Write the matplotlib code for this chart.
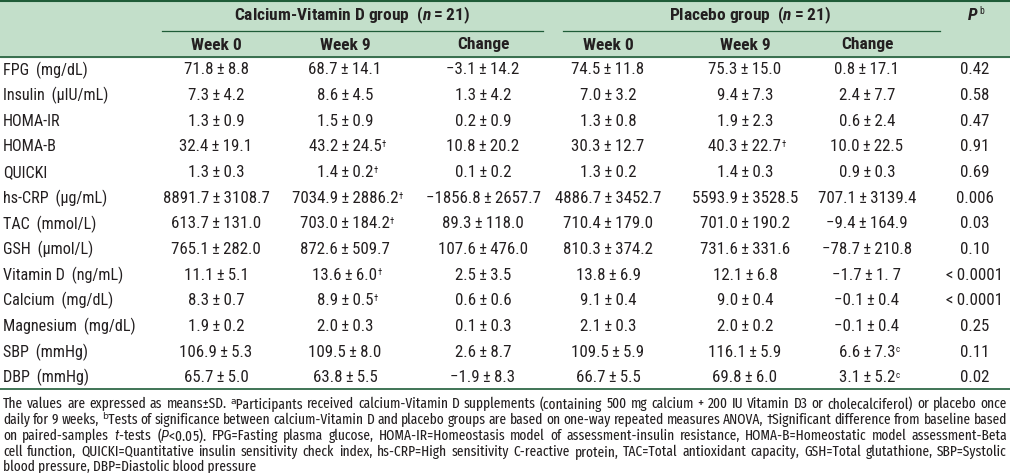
import matplotlib
matplotlib.use("Agg")
import matplotlib.pyplot as plt
from matplotlib import font_manager

# --- fuentes: primera condensada que esté instalada ---
nombres = {f.name for f in font_manager.fontManager.ttflist}
FUENTE = next(f for f in ["Roboto Condensed", "Liberation Sans Narrow", "Liberation Sans", "DejaVu Sans"]
              if f in nombres)
# la nota al pie usa una humanista estrecha, si la hay
FUENTE_NOTA = next(f for f in ["Fira Sans Extra Condensed", "Cabin Condensed", "Fira Sans Condensed",
                               "PT Sans Narrow", FUENTE] if f in nombres)
plt.rcParams['font.family'] = [FUENTE, 'DejaVu Sans']
plt.rcParams['mathtext.fontset'] = 'custom'
plt.rcParams['mathtext.rm'] = FUENTE
plt.rcParams['mathtext.it'] = FUENTE + ':italic'
plt.rcParams['mathtext.bf'] = FUENTE + ':bold'
plt.rcParams['mathtext.bfit'] = FUENTE + ':bold:italic'

PM = "\u2009\u00b1\u2009"   # ± con espacios finos
MENOS = "\u2212"

# --- datos ---
grupos = ["Calcium-Vitamin D group  ($\\mathbfit{n}$\u2009=\u200921)",
          "Placebo group  ($\\mathbfit{n}$\u2009=\u200921)"]
subcols = ["Week 0", "Week 9", "Change"]
variables = ["FPG  (mg/dL)", "Insulin  (\u03bcIU/mL)", "HOMA-IR", "HOMA-B", "QUICKI",
             "hs-CRP  (\u03bcg/mL)", "TAC  (mmol/L)", "GSH  (\u03bcmol/L)", "Vitamin D  (ng/mL)",
             "Calcium  (mg/dL)", "Magnesium  (mg/dL)", "SBP  (mmHg)", "DBP  (mmHg)"]
cavd_w0 = ["71.8±8.8", "7.3±4.2", "1.3±0.9", "32.4±19.1", "1.3±0.3",
           "8891.7±3108.7", "613.7±131.0", "765.1±282.0", "11.1±5.1",
           "8.3±0.7", "1.9±0.2", "106.9±5.3", "65.7±5.0"]
cavd_w9 = ["68.7±14.1", "8.6±4.5", "1.5±0.9", "43.2±24.5", "1.4±0.2",
           "7034.9±2886.2", "703.0±184.2", "872.6±509.7", "13.6±6.0",
           "8.9±0.5", "2.0±0.3", "109.5±8.0", "63.8±5.5"]
cavd_w9_sup = ["", "", "", "\u2020", "\u2020", "\u2020", "\u2020", "", "\u2020", "\u2020", "", "", ""]
cavd_cambio = ["−3.1±14.2", "1.3±4.2", "0.2±0.9", "10.8±20.2", "0.1±0.2",
               "−1856.8±2657.7", "89.3±118.0", "107.6±476.0", "2.5±3.5",
               "0.6±0.6", "0.1±0.3", "2.6±8.7", "−1.9±8.3"]
plac_w0 = ["74.5±11.8", "7.0±3.2", "1.3±0.8", "30.3±12.7", "1.3±0.2",
           "4886.7±3452.7", "710.4±179.0", "810.3±374.2", "13.8±6.9",
           "9.1±0.4", "2.1±0.3", "109.5±5.9", "66.7±5.5"]
plac_w9 = ["75.3±15.0", "9.4±7.3", "1.9±2.3", "40.3±22.7", "1.4±0.3",
           "5593.9±3528.5", "701.0±190.2", "731.6±331.6", "12.1±6.8",
           "9.0±0.4", "2.0±0.2", "116.1±5.9", "69.8±6.0"]
plac_w9_sup = ["", "", "", "\u2020", "", "", "", "", "", "", "", "", ""]
plac_cambio = ["0.8±17.1", "2.4±7.7", "0.6±2.4", "10.0±22.5", "0.9±0.3",
               "707.1±3139.4", "−9.4±164.9", "−78.7±210.8", "−1.7±1. 7",
               "−0.1±0.4", "−0.1±0.4", "6.6±7.3", "3.1±5.2"]
plac_cambio_sup = ["", "", "", "", "", "", "", "", "", "", "", "c", "c"]
valores_p = ["0.42", "0.58", "0.47", "0.91", "0.69", "0.006", "0.03", "0.10", "<\u20090.0001",
             "<\u20090.0001", "0.25", "0.11", "0.02"]

nota = [
    "The values are expressed as means±SD. \u1d43Participants received calcium-Vitamin D supplements (containing 500 mg calcium + 200 IU Vitamin D3 or cholecalciferol) or placebo once",
    "daily for 9 weeks, \u1d47Tests of significance between calcium-Vitamin D and placebo groups are based on one-way repeated measures ANOVA, \u2020Significant difference from baseline based",
    "on paired-samples $\\mathit{t}$-tests ($\\mathit{P}$<0.05). FPG=Fasting plasma glucose, HOMA-IR=Homeostasis model of assessment-insulin resistance, HOMA-B=Homeostatic model assessment-Beta",
    "cell function, QUICKI=Quantitative insulin sensitivity check index, hs-CRP=High sensitivity C-reactive protein, TAC=Total antioxidant capacity, GSH=Total glutathione, SBP=Systolic",
    "blood pressure, DBP=Diastolic blood pressure",
]

# --- estilo ---
VERDE_FONDO = "#c3dfca"
VERDE_LINEA = "#1f5c38"
TEXTO = "#231f20"

fig = plt.figure(figsize=(10.1, 4.73), dpi=100)
ax = fig.add_axes([0, 0, 1, 1])
ax.set_xlim(0, 1010)
ax.set_ylim(473, 0)
ax.axis('off')
renderer = fig.canvas.get_renderer()

# encabezado
ax.axhspan(2, 57, color=VERDE_FONDO, zorder=0)
ax.axhline(1.5, color=VERDE_LINEA, lw=1.5)
ax.axhline(57.5, color=VERDE_LINEA, lw=1.2)
ax.axhline(388.5, color=VERDE_LINEA, lw=1.2)
ax.plot([162, 543], [31, 31], color=VERDE_LINEA, lw=0.9)
ax.plot([563, 940], [31, 31], color=VERDE_LINEA, lw=0.9)

x_cols = [216, 345, 483, 608, 745, 867]
x_grupos = [352, 750]
x_p = 975
fs = 12.2
fs_cab = 12.5

for g, xg in zip(grupos, x_grupos):
    ax.text(xg, 15, g, ha='center', va='center', fontsize=fs_cab, fontweight='bold', color=TEXTO)
ax.text(x_p - 2, 15, "$\\mathbfit{P}$", ha='center', va='center', fontsize=fs_cab, color=TEXTO)
ax.text(x_p + 4, 11, "b", ha='left', va='center', fontsize=7, color=TEXTO)
for i, xc in enumerate(x_cols):
    ax.text(xc, 45, subcols[i % 3], ha='center', va='center', fontsize=fs_cab, fontweight='bold', color=TEXTO)


def celda(x, y, s, sup=""):
    s = s.replace("±", PM).replace("−", MENOS)
    t = ax.text(x, y, s, ha='center', va='center', fontsize=fs, color=TEXTO)
    if sup:
        ax.annotate(sup, xy=(1.0, 0.95), xycoords=t, ha='left', va='top',
                    fontsize=6.5, color=TEXTO)


columnas = [(cavd_w0, None), (cavd_w9, cavd_w9_sup), (cavd_cambio, None),
            (plac_w0, None), (plac_w9, plac_w9_sup), (plac_cambio, plac_cambio_sup)]

for r, var in enumerate(variables):
    y = 70 + r * 25.65
    ax.text(3, y, var.replace("  ", " \u2009"), ha='left', va='center', fontsize=11.6, color=TEXTO)
    for (vals, sups), xc in zip(columnas, x_cols):
        celda(xc, y, vals[r], sups[r] if sups else "")
    ax.text(x_p, y, valores_p[r], ha='center', va='center', fontsize=fs, color=TEXTO)

# nota al pie, justificada entre x=3 y x=1007
x0, x1 = 3, 1007
fam_nota = [FUENTE_NOTA, 'DejaVu Sans']


def nuevo_texto(s, tam, y=0):
    return ax.text(0, y, s, ha='left', va='center', fontsize=tam, family=fam_nota, color=TEXTO)


def ancho(a):
    return a.get_window_extent(renderer).width


base = 10
sp, sx = nuevo_texto("x x", base), nuevo_texto("xx", base)
esp = ancho(sp) - ancho(sx)
sp.remove()
sx.remove()
natural = []
for linea in nota[:-1]:
    arts = [nuevo_texto(w, base) for w in linea.split(" ")]
    natural.append(sum(ancho(a) for a in arts) + esp * (len(arts) - 1))
    for a in arts:
        a.remove()
fs_nota = min(11.6, base * (x1 - x0) / max(natural))

for k, linea in enumerate(nota):
    y = 404 + k * 15.8
    if k == len(nota) - 1:
        t = nuevo_texto(linea, fs_nota, y)
        t.set_x(x0)
        continue
    arts = [nuevo_texto(w, fs_nota, y) for w in linea.split(" ")]
    anchos = [ancho(a) for a in arts]
    hueco = (x1 - x0 - sum(anchos)) / (len(arts) - 1)
    x = x0
    for a, w in zip(arts, anchos):
        a.set_x(x)
        x += w + hueco

fig.savefig("out.png", dpi=100)
